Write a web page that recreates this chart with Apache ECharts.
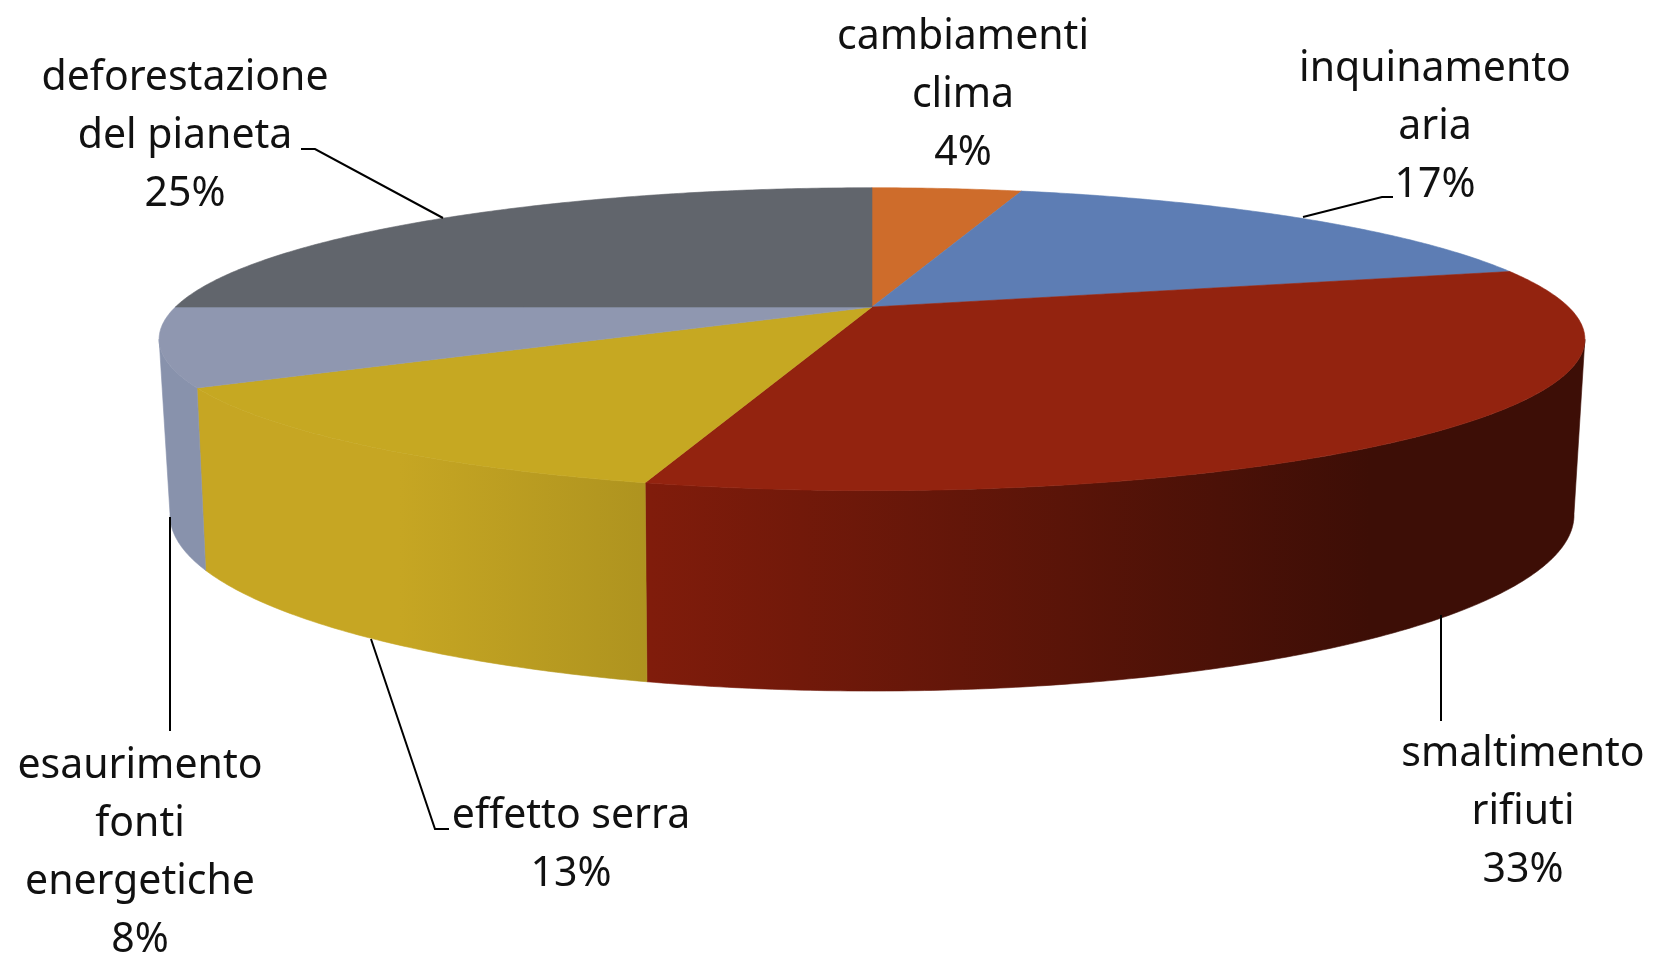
<!DOCTYPE html>
<html>
<head>
<meta charset="utf-8">
<style>html,body{margin:0;padding:0;background:#fff}#c{width:1655px;height:957px}</style>
<script src="https://cdn.jsdelivr.net/npm/echarts@6/dist/echarts.min.js"></script>
</head>
<body>
<div id="c"></div>
<script>
// --- data ---
const categories = ['cambiamenti\nclima','inquinamento\naria','smaltimento\nrifiuti','effetto serra','esaurimento\nfonti\nenergetiche','deforestazione\ndel pianeta'];
const values = [1, 4, 8, 3, 2, 6];   // survey counts, out of 24
const percentLabels = ['4%','17%','33%','13%','8%','25%'];

// --- styling and layout ---
const topColors = ['#CE6C2B','#5D7DB4','#93230F','#C6A822','#8F97B0','#61656C'];
const wallFills = [null, null,
  {type:'linear',x:650,y:0,x2:1370,y2:0,global:true,colorStops:[{offset:0,color:'#801C0B'},{offset:1,color:'#3D0E06'}]},
  {type:'linear',x:400,y:0,x2:650,y2:0,global:true,colorStops:[{offset:0,color:'#C6A623'},{offset:1,color:'#AE931F'}]},
  '#8892AC', null];
const labelCenters = [[963,95],[1435,127],[1523,812],[571,845],[140,853],[185,136]];
const leaderPaths = [null,
  [[1393,197],[1382,197],[1303,217]],
  [[1441,615],[1441,721]],
  [[371,639],[435,829],[449,829]],
  [[170,517],[170,731]],
  [[301,149],[315,149],[443,218]]];
const topDisc = {cx:872, cy:307, rx:696.6, ry:144.6, k:0.2125};
const baseDisc = {cx:872, cy:476.3, rx:684.8, ry:167.5, k:0.22};
const tangentStart = 102.3, tangentEnd = 257.7;   // where the side wall turns out of sight

const total = values.reduce((a,b)=>a+b,0);
let run = 0;
const spans = values.map(v=>{const s=run; run+=v; return [s/total*360, run/total*360];});

function project(d, deg){
  const t = deg*Math.PI/180, u = Math.sin(t), v = -Math.cos(t), w = 1 - d.k*v;
  return [d.cx + d.rx*u/w, d.cy + d.ry*v/w];
}
function arc(d, a, b){
  const n = Math.max(2, Math.ceil(Math.abs(b-a)*2)), pts = [];
  for(let i=0;i<=n;i++) pts.push(project(d, a+(b-a)*i/n));
  return pts;
}
const seriesData = categories.map((c,i)=>({name:c, value:[values[i], spans[i][0], spans[i][1], i]}));

function renderWall(params, api){
  const i = api.value(3);
  if(!wallFills[i]) return {type:'group', children:[]};
  const a = Math.max(api.value(1), tangentStart), b = Math.min(api.value(2), tangentEnd);
  return {type:'polygon', shape:{points: arc(topDisc,a,b).concat(arc(baseDisc,a,b).reverse())},
    style:{fill:wallFills[i], stroke:wallFills[i], lineWidth:0.6}};
}
function renderFace(params, api){
  const i = api.value(3);
  const pts = [[topDisc.cx, topDisc.cy]].concat(arc(topDisc, api.value(1), api.value(2)));
  return {type:'polygon', shape:{points:pts}, style:{fill:topColors[i], stroke:topColors[i], lineWidth:0.6}};
}
function renderLabel(params, api){
  const i = api.value(3), kids = [];
  if(leaderPaths[i]) kids.push({type:'polyline', shape:{points:leaderPaths[i]},
    style:{fill:null, stroke:'#000', lineWidth:2}});
  kids.push({type:'text', x:labelCenters[i][0], y:labelCenters[i][1],
    style:{text:categories[i]+'\n'+percentLabels[i], x:0, y:0, align:'center', verticalAlign:'middle',
      fill:'#111', font:'400 41px "Noto Sans", "Open Sans", sans-serif', lineHeight:58}});
  return {type:'group', children:kids};
}

const chart = echarts.init(document.getElementById('c'), null, {renderer:'canvas', width:1655, height:957});
chart.setOption({
  animation:false,
  backgroundColor:'#fff',
  series:[
    {type:'custom', coordinateSystem:'none', renderItem:renderWall, data:seriesData, z:1, silent:true},
    {type:'custom', coordinateSystem:'none', renderItem:renderFace, data:seriesData, z:2, silent:true},
    {type:'custom', coordinateSystem:'none', renderItem:renderLabel, data:seriesData, z:3, silent:true}
  ]
});
</script>
</body>
</html>
